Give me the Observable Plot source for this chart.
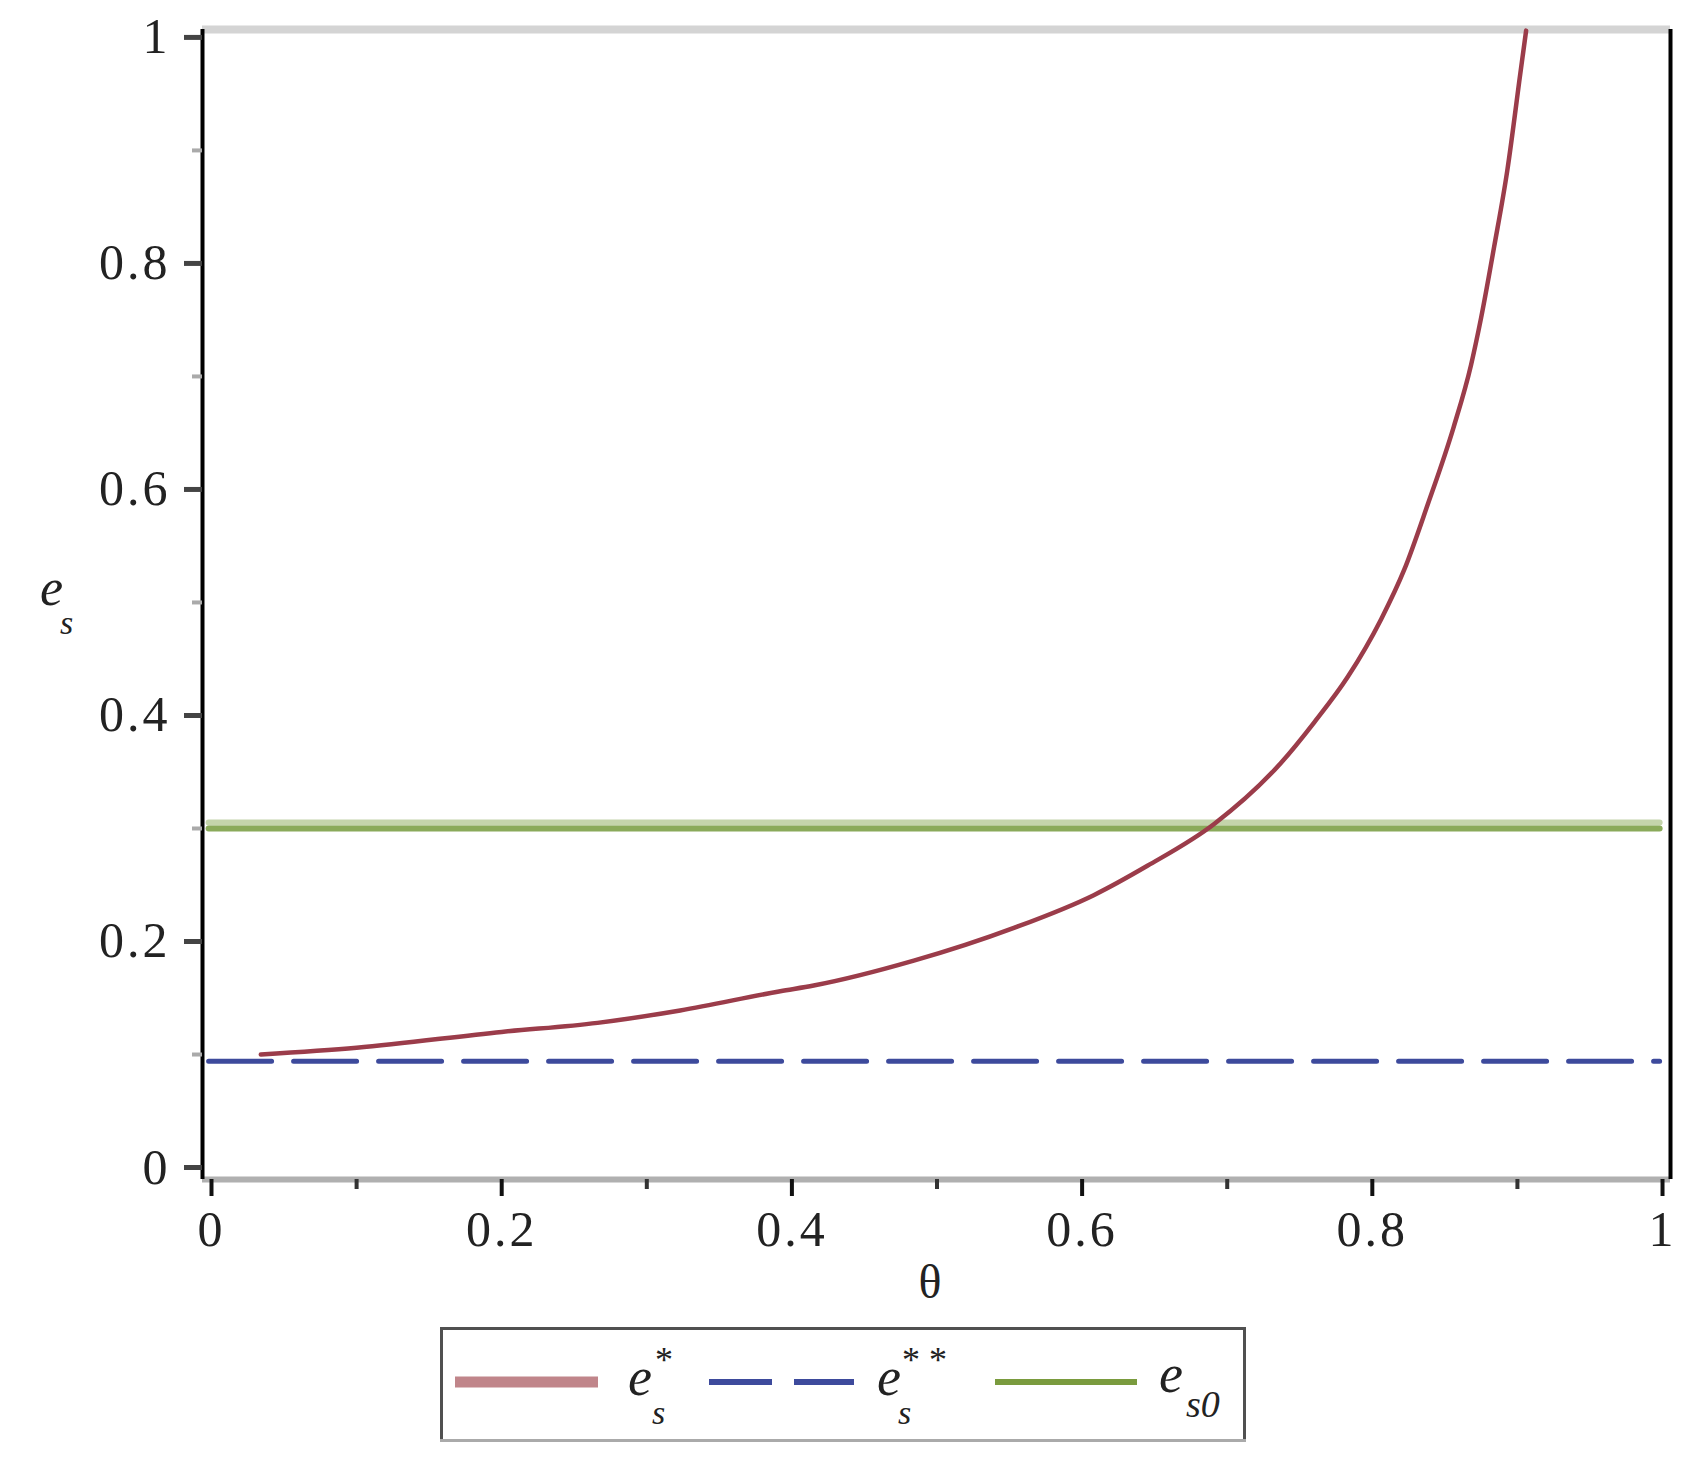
<!DOCTYPE html>
<html>
<head>
<meta charset="utf-8">
<script src="https://cdn.jsdelivr.net/npm/d3@7"></script>
<script src="https://cdn.jsdelivr.net/npm/@observablehq/plot@0.6"></script>
<style>
  body { margin: 0; background: #fff; }
  #wrap { position: relative; width: 1706px; height: 1466px; background: #fff; }
  #overlay { position: absolute; left: 0; top: 0; pointer-events: none; }
</style>
</head>
<body>
<div id="wrap"></div>
<script>
// ---- data ----
const curveTheta = [0.034, 0.1, 0.2, 0.266, 0.323, 0.392, 0.415, 0.484, 0.553, 0.608, 0.645, 0.691, 0.737, 0.760, 0.783, 0.806, 0.822, 0.838, 0.856, 0.868, 0.875, 0.884, 0.893, 0.902, 0.906];
const curveValue = [0.100, 0.106, 0.120, 0.128, 0.139, 0.156, 0.161, 0.183, 0.212, 0.241, 0.267, 0.304, 0.358, 0.394, 0.434, 0.485, 0.529, 0.586, 0.655, 0.710, 0.752, 0.815, 0.882, 0.968, 1.006];
const flatTheta = [-0.002, 0.998];
const esStarStarValue = 0.094;
const es0Value = 0.3;

const xTicks = [0, 0.2, 0.4, 0.6, 0.8, 1];
const xTickLabels = ["0", "0.2", "0.4", "0.6", "0.8", "1"];
const xMinorTicks = [0.1, 0.3, 0.5, 0.7, 0.9];
const yTicks = [0, 0.2, 0.4, 0.6, 0.8, 1];
const yTickLabels = ["0", "0.2", "0.4", "0.6", "0.8", "1"];
const yMinorTicks = [0.1, 0.3, 0.5, 0.7, 0.9];

const xDomain = [-0.0062, 1.0055];
const yDomain = [-0.0106, 1.007];

const colors = { es: "#9b3c4a", ess: "#3d4a9c", es0: "#8aaa5a", es0Light: "#c4d4ab",
                 esLegend: "#c0858a", es0Legend: "#7a9b3e" };

// ---- tables built from the arrays ----
const curve = curveTheta.map((t, i) => ({ theta: t, value: curveValue[i] }));
const essLine = flatTheta.map(t => ({ theta: t, value: esStarStarValue }));
const es0Line = flatTheta.map(t => ({ theta: t, value: es0Value }));
const fmt = (ticks, labels) => d => labels[ticks.indexOf(d)];

const chart = Plot.plot({
  width: 1706,
  height: 1310,
  marginLeft: 202,
  marginRight: 36,
  marginTop: 29,
  marginBottom: 131,
  x: { domain: xDomain, label: null },
  y: { domain: yDomain, label: null },
  style: { fontFamily: "'Liberation Serif', 'Times New Roman', serif", fontSize: "50px",
           color: "#222", background: "#fff", overflow: "visible", letterSpacing: "3px" },
  marks: [
    Plot.ruleY([yDomain[1]], { stroke: "#d4d4d4", strokeWidth: 8 }),
    Plot.ruleY([yDomain[0]], { stroke: "#b0b0b0", strokeWidth: 6 }),
    Plot.ruleX([xDomain[0]], { stroke: "#000", strokeWidth: 4 }),
    Plot.ruleX([xDomain[1]], { stroke: "#000", strokeWidth: 4 }),
    Plot.axisY(yMinorTicks, { tickSize: 10, tickFormat: () => "", stroke: "#aaa", strokeWidth: 4, label: null }),
    Plot.axisY(yTicks, { tickSize: 18, tickPadding: 14, tickFormat: fmt(yTicks, yTickLabels),
                         stroke: "#444", strokeWidth: 5, fill: "#222", label: null }),
    Plot.axisX(xMinorTicks, { tickSize: 10, tickFormat: () => "", stroke: "#333", strokeWidth: 4, label: null }),
    Plot.axisX(xTicks, { tickSize: 17, tickPadding: 14, tickFormat: fmt(xTicks, xTickLabels),
                         stroke: "#111", strokeWidth: 4, fill: "#222", label: null }),
    Plot.lineY(es0Line, { x: "theta", y: "value", stroke: colors.es0Light, strokeWidth: 6, dy: -6 }),
    Plot.lineY(es0Line, { x: "theta", y: "value", stroke: colors.es0, strokeWidth: 6 }),
    Plot.lineY(essLine, { x: "theta", y: "value", stroke: colors.ess, strokeWidth: 5, strokeDasharray: "63,22" }),
    Plot.lineY(curve, { x: "theta", y: "value", stroke: colors.es, strokeWidth: 4.5, curve: "monotone-x" })
  ]
});

const wrap = document.getElementById("wrap");
wrap.appendChild(chart);

// ---- axis titles and legend (text kept as real text) ----
const ov = d3.create("svg").attr("id", "overlay").attr("width", 1706).attr("height", 1466)
  .style("font-family", "'Liberation Serif', 'Times New Roman', serif").style("fill", "#222");

function txt(x, y, s, size, italic, anchor) {
  return ov.append("text").attr("x", x).attr("y", y).attr("font-size", size)
    .attr("font-style", italic ? "italic" : "normal").attr("text-anchor", anchor || "start").text(s);
}
// y axis title e_s
txt(40, 605, "e", 52, true);
txt(60, 634, "s", 34, true);
// x axis title
txt(930, 1298, "θ", 48, false, "middle");

// legend box
ov.append("rect").attr("x", 441.5).attr("y", 1328.5).attr("width", 803).attr("height", 112)
  .attr("fill", "none").attr("stroke", "#505050").attr("stroke-width", 3);
ov.append("line").attr("x1", 440).attr("x2", 1246).attr("y1", 1440.5).attr("y2", 1440.5)
  .attr("stroke", "#aaa").attr("stroke-width", 3);

const legendItems = [
  { x1: 455, x2: 598, color: colors.esLegend, width: 11, dash: null },
  { x1: 709, x2: 854, color: colors.ess, width: 6, dash: "63,22" },
  { x1: 995, x2: 1137, color: colors.es0Legend, width: 6, dash: null }
];
legendItems.forEach(d => {
  const l = ov.append("line").attr("x1", d.x1).attr("x2", d.x2).attr("y1", 1382).attr("y2", 1382)
    .attr("stroke", d.color).attr("stroke-width", d.width);
  if (d.dash) l.attr("stroke-dasharray", d.dash);
});
// label 1: e_s^*
txt(628, 1395, "e", 54, true);
txt(652, 1424, "s", 34, true);
txt(655, 1372, "*", 36, false);
// label 2: e_s^**
txt(877, 1395, "e", 54, true);
txt(898, 1424, "s", 34, true);
txt(902, 1372, "*", 36, false);
txt(929, 1372, "*", 36, false);
// label 3: e_s0
txt(1159, 1392, "e", 54, true);
txt(1186, 1417, "s0", 38, true);

wrap.appendChild(ov.node());
</script>
</body>
</html>
